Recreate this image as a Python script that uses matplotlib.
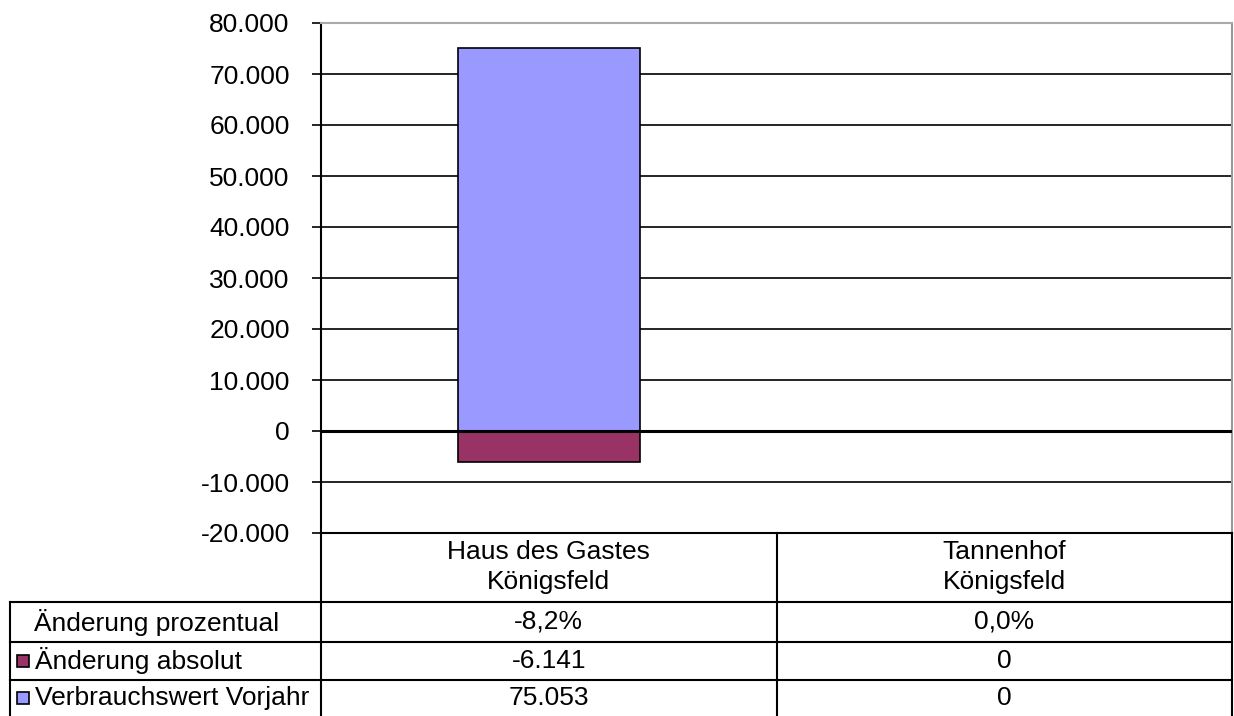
import matplotlib.pyplot as plt
from matplotlib.patches import Rectangle
from matplotlib.ticker import FuncFormatter, MultipleLocator

plt.rcParams['font.family'] = ['Liberation Sans', 'DejaVu Sans']

# data
categories = ['Haus des Gastes\nKönigsfeld', 'Tannenhof\nKönigsfeld']
vorjahr = [75053, 0]
aenderung_abs = [-6141, 0]
aenderung_pct = [-8.2, 0.0]
row_labels = ['Änderung prozentual', 'Änderung absolut', 'Verbrauchswert Vorjahr']
col_blue = '#9999FF'
col_red = '#993366'

W, H = 1234, 716
fig = plt.figure(figsize=(W / 100, H / 100), dpi=100)


def fx(px):
    return px / W


def fy(py):
    return 1 - py / H


x0, x1, y0, y1 = 321, 1232, 23, 533
ax = fig.add_axes([fx(x0), fy(y1), fx(x1 - x0), (y1 - y0) / H])

xs = list(range(len(categories)))
ax.bar(xs, vorjahr, width=0.4, color=col_blue, edgecolor='black', linewidth=1.2, zorder=3)
ax.bar(xs, aenderung_abs, width=0.4, color=col_red, edgecolor='black', linewidth=1.2, zorder=3)

ax.set_xlim(-0.5, len(categories) - 0.5)
ax.set_ylim(-20000, 80000)
ax.yaxis.set_major_locator(MultipleLocator(10000))
ax.yaxis.set_major_formatter(FuncFormatter(lambda v, p: f'{v:,.0f}'.replace(',', '.')))
ax.grid(axis='y', color='black', linewidth=1.2, zorder=1)
ax.tick_params(axis='y', labelsize=19, length=6.5, width=1.2, pad=16, color='black')
ax.tick_params(axis='x', bottom=False, labelbottom=False)
ax.axhline(0, color='black', linewidth=2.2, zorder=4)
ax.spines['left'].set_color('black')
ax.spines['left'].set_linewidth(1.5)
ax.spines['top'].set_color('#aaaaaa')
ax.spines['top'].set_linewidth(1.5)
ax.spines['right'].set_color('#999999')
ax.spines['right'].set_linewidth(1.5)
ax.spines['bottom'].set_color('black')
ax.spines['bottom'].set_linewidth(1.5)

# data table below the axes
line_kw = dict(color='black', linewidth=1.5, transform=fig.transFigure)
fig.add_artist(plt.Line2D([fx(x0), fx(x0)], [fy(y1), fy(H)], **line_kw))
fig.add_artist(plt.Line2D([fx(x1), fx(x1)], [fy(y1), fy(H)], **line_kw))
fig.add_artist(plt.Line2D([fx(10), fx(10)], [fy(602), fy(H)], **line_kw))
for ry in [602, 642, 680]:
    fig.add_artist(plt.Line2D([fx(10), fx(x1)], [fy(ry), fy(ry)], **line_kw))
col_w = (x1 - x0) / len(categories)
for i in range(1, len(categories)):
    xx = x0 + i * col_w
    fig.add_artist(plt.Line2D([fx(xx), fx(xx)], [fy(y1), fy(H)], **line_kw))

fs = 19
row_y = [622, 661, 698]
for i, cat in enumerate(categories):
    cx = x0 + (i + 0.5) * col_w
    fig.text(fx(cx), fy(567), cat, ha='center', va='center', fontsize=fs, linespacing=1.3)
    fig.text(fx(cx), fy(row_y[0]), f'{aenderung_pct[i]:.1f}%'.replace('.', ','),
             ha='center', va='center', fontsize=fs)
    fig.text(fx(cx), fy(row_y[1]), f'{aenderung_abs[i]:,.0f}'.replace(',', '.'),
             ha='center', va='center', fontsize=fs)
    fig.text(fx(cx), fy(row_y[2]), f'{vorjahr[i]:,.0f}'.replace(',', '.'),
             ha='center', va='center', fontsize=fs)

fig.text(fx(157), fy(row_y[0]), row_labels[0], ha='center', va='center', fontsize=fs)
for ry, lab, col in [(row_y[1], row_labels[1], col_red), (row_y[2], row_labels[2], col_blue)]:
    fig.add_artist(Rectangle((fx(17), fy(ry + 6)), fx(12), 12 / H, facecolor=col,
                             edgecolor='black', linewidth=1.2, transform=fig.transFigure))
    fig.text(fx(35), fy(ry), lab, ha='left', va='center', fontsize=fs)

fig.savefig('out.png', dpi=100)
